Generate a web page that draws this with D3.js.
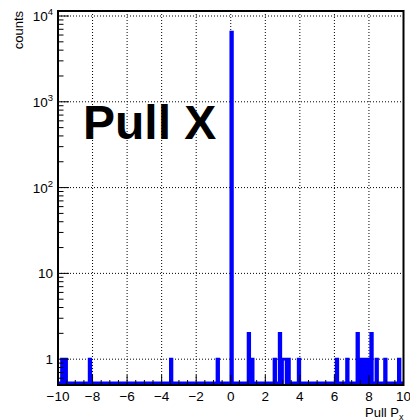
<!DOCTYPE html>
<html><head><meta charset="utf-8">
<script src="https://cdn.jsdelivr.net/npm/d3@7"></script>
<style>body{margin:0;background:#fff}svg{display:block}</style>
</head><body>
<script>
// ---- data ----
const binLow   = [-9.8,-9.6,-8.2,-3.5,-0.8,0.0,1.0,1.2,2.5,2.8,3.0,3.1,3.3,3.9,6.1,6.7,7.3,7.5,7.7,7.9,8.1,8.4,8.9,9.7];
const binCount = [1,1,1,1,1,6500,2,1,1,2,1,1,1,1,1,1,2,1,1,1,2,1,1,1];
const xRange = [-10, 10];
const nBins = 200;
const xTickLabels = [-10,-8,-6,-4,-2,0,2,4,6,8,10];
const yDecades = [1,10,100,1000,10000];
const yRange = [0.5, 11437];
const title = "Pull X";
const yTitle = "counts";

// ---- layout ----
const W = 410, H = 420;
const L = 58, R = 403.5, T = 11, B = 385;
const font = "'Liberation Sans', Arial, Helvetica, sans-serif";

const svg = d3.select("body").append("svg").attr("width", W).attr("height", H);
const x = d3.scaleLinear().domain(xRange).range([L, R]);
const y = d3.scaleLog().domain(yRange).range([B, T]);

// grid
const gridX = xTickLabels.filter(v => v > xRange[0] && v < xRange[1]);
svg.append("g").selectAll("line").data(gridX).join("line")
  .attr("x1", d => x(d)).attr("x2", d => x(d)).attr("y1", T).attr("y2", B)
  .attr("stroke", "#000").attr("stroke-width", 1).attr("stroke-dasharray", "1,2");
svg.append("g").selectAll("line").data(yDecades).join("line")
  .attr("x1", L).attr("x2", R).attr("y1", d => y(d)).attr("y2", d => y(d))
  .attr("stroke", "#000").attr("stroke-width", 1).attr("stroke-dasharray", "1,2");

// histogram
const bw = (xRange[1] - xRange[0]) / nBins;
const counts = new Array(nBins).fill(0);
binLow.forEach((b, i) => { counts[Math.round((b - xRange[0]) / bw)] += binCount[i]; });
const base = y(yRange[0]) - 2.2;   // empty bins drawn just above the frame
const pts = [[x(xRange[0]), base]];
counts.forEach((c, i) => {
  const lv = c > 0 ? y(c) : base;
  pts.push([x(xRange[0] + i * bw), lv]);
  pts.push([x(xRange[0] + (i + 1) * bw), lv]);
});
pts.push([x(xRange[1]), base]);
svg.append("clipPath").attr("id", "clip").append("rect")
  .attr("x", L).attr("y", T).attr("width", R - L).attr("height", B - T);
svg.append("path").attr("clip-path", "url(#clip)")
  .attr("d", d3.line()(pts)).attr("fill", "none")
  .attr("stroke", "#0000ff").attr("stroke-width", 2.6).attr("stroke-linejoin", "miter");

// ticks: x
const xMinor = d3.range(xRange[0], xRange[1] + 0.001, 0.5);
svg.append("g").selectAll("line").data(xMinor).join("line")
  .attr("x1", d => x(d)).attr("x2", d => x(d))
  .attr("y1", B).attr("y2", d => Math.abs(d % 2) < 1e-6 ? B - 10 : B - 5)
  .attr("stroke", "#000").attr("stroke-width", 1);
// ticks: y
const yMinor = [];
[0.1,1,10,100,1000].forEach(dec => { for (let k = 2; k <= 9; k++) { const v = dec * k; if (v >= yRange[0] && v <= yRange[1]) yMinor.push(v); } });
svg.append("g").selectAll("line").data(yMinor).join("line")
  .attr("x1", L).attr("x2", L + 5.5).attr("y1", d => y(d)).attr("y2", d => y(d))
  .attr("stroke", "#000").attr("stroke-width", 1);
svg.append("g").selectAll("line").data(yDecades).join("line")
  .attr("x1", L).attr("x2", L + 11).attr("y1", d => y(d)).attr("y2", d => y(d))
  .attr("stroke", "#000").attr("stroke-width", 1);

// frame
svg.append("rect").attr("x", L).attr("y", T).attr("width", R - L).attr("height", B - T)
  .attr("fill", "none").attr("stroke", "#000").attr("stroke-width", 2);

// x labels
svg.append("g").selectAll("text").data(xTickLabels).join("text")
  .attr("x", d => x(d)).attr("y", 401).attr("text-anchor", "middle")
  .attr("font-family", font).attr("font-size", 13.5).attr("fill", "#000")
  .text(d => d < 0 ? "\u2212" + Math.abs(d) : String(d));

// y labels
const yl = svg.append("g").selectAll("text").data(yDecades).join("text")
  .attr("x", 53).attr("y", d => y(d) + 5).attr("text-anchor", "end")
  .attr("font-family", font).attr("font-size", 13.5).attr("fill", "#000");
yl.each(function(d) {
  const t = d3.select(this);
  const e = Math.round(Math.log10(d));
  if (e <= 1) { t.text(String(d)); }
  else {
    t.append("tspan").text("10");
    t.append("tspan").attr("dy", -6).attr("font-size", 9.5).text(String(e));
  }
});

// axis titles
svg.append("text").attr("transform", `translate(23,${T}) rotate(-90)`)
  .attr("text-anchor", "end").attr("font-family", font).attr("font-size", 13)
  .text(yTitle);
const xt = svg.append("text").attr("x", R).attr("y", 416.5).attr("text-anchor", "end")
  .attr("font-family", font).attr("font-size", 13);
xt.append("tspan").text("Pull P");
xt.append("tspan").attr("dy", 3).attr("font-size", 9).text("x");

// big title
svg.append("text").attr("x", 83).attr("y", 139)
  .attr("font-family", font).attr("font-weight", "bold").attr("font-size", 48)
  .text(title);
</script>
</body></html>
